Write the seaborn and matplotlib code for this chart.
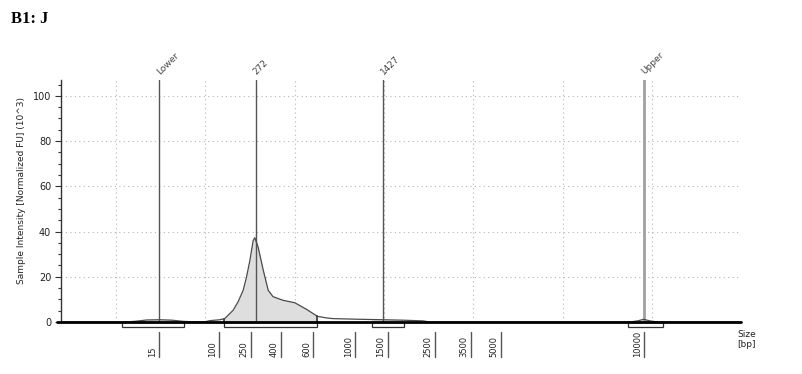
import numpy as np
import pandas as pd
import matplotlib
matplotlib.use("Agg")
import matplotlib.pyplot as plt
from matplotlib.patches import Rectangle
import seaborn as sns

# ---------------- data ----------------
# migration time (s) vs normalized fluorescence (x10^3)
time_s = [16.95, 20.52, 21.08, 21.75, 22.47, 23.15, 23.76, 24.26, 24.99, 25.27,
          25.83, 26.10, 26.57, 26.85, 27.13, 27.32, 27.50, 27.69, 27.78, 27.97,
          28.11, 28.25, 28.53, 28.80, 29.36, 30.02, 30.67, 31.28, 31.79, 32.14,
          33.65, 34.93, 36.05, 37.17, 37.56, 48.73, 49.18, 49.51, 49.85, 50.30,
          54.92]
intensity = [0.0, 0.0, 0.3, 0.9, 1.0, 0.8, 0.3, 0.1, 0.1, 0.6,
             1.0, 1.5, 5.2, 9.0, 14.0, 20.0, 27.0, 36.0, 37.3, 33.0,
             28.0, 23.0, 14.0, 11.2, 9.6, 8.5, 5.6, 2.5, 1.8, 1.5,
             1.2, 1.0, 0.8, 0.5, 0.0, 0.0, 0.5, 1.2, 0.5, 0.0,
             0.0]

marker_names = ["Lower", "272", "1427", "Upper"]
marker_times = [22.44, 27.82, 34.95, 49.51]

region_starts = [20.35, 26.05, 34.32, 48.62]
region_ends = [23.82, 31.28, 36.11, 50.58]

ladder_sizes = ["15", "100", "250", "400", "600", "1000", "1500", "2500", "3500", "5000", "10000"]
ladder_times = [22.44, 25.77, 27.54, 29.22, 31.04, 33.37, 35.20, 37.84, 39.85, 41.53, 49.51]

y_ticks = [0, 20, 40, 60, 80, 100]
x_grid = [20, 25, 30, 35, 40, 45, 50, 55]

df = pd.DataFrame({"time": time_s, "fu": intensity})

# ---------------- figure ----------------
sns.set_theme(style="white")
plt.rcParams["font.family"] = ["DejaVu Sans"]

fig = plt.figure(figsize=(8.02, 3.74), dpi=100)
ax = fig.add_axes([61 / 802, 1 - 322 / 374, (741 - 61) / 802, (322 - 80) / 374])

xlim = (16.95, 54.95)
ylim = (0, 107)
ax.set_xlim(*xlim)
ax.set_ylim(*ylim)

# grid
for g in x_grid:
    ax.axvline(g, color="#b5b5b5", lw=0.8, ls=(0, (1, 3)), zorder=0)
for g in y_ticks[1:]:
    ax.axhline(g, color="#b5b5b5", lw=0.8, ls=(0, (1, 3)), zorder=0)

# fill under peaks in regions
t = np.array(time_s)
v = np.array(intensity)
for s, e in zip(region_starts, region_ends):
    mask = (t >= s) & (t <= e)
    tt = np.concatenate([[s], t[mask], [e]])
    vv = np.concatenate([[np.interp(s, t, v)], v[mask], [np.interp(e, t, v)]])
    ax.fill_between(tt, 0, vv, color="#dedede", lw=0, zorder=1)

# trace
sns.lineplot(data=df, x="time", y="fu", ax=ax, color="#4a4a4a", lw=0.9, zorder=3)

# region boundary ticks for main peak
for bx in (region_starts[1], region_ends[1]):
    ax.plot([bx, bx], [0, np.interp(bx, t, v)], color="#333333", lw=1.2, zorder=3)

# marker lines and labels
for name, mt in zip(marker_names, marker_times):
    if name == "Upper":
        ax.axvline(mt, color="#a0a0a0", lw=2.0, zorder=2)
    else:
        ax.axvline(mt, color="#555555", lw=1.0, zorder=2)
    ax.annotate(name, xy=(mt, 1.0), xycoords=ax.get_xaxis_transform(),
                xytext=(-4, 4), textcoords="offset pixels",
                rotation=45, ha="left", va="bottom", fontsize=6.5,
                color="#444444", annotation_clip=False)

# baseline
ax.plot([xlim[0] - 0.2, xlim[1]], [0, 0], color="black", lw=2, zorder=4, clip_on=False)

# region brackets below baseline
xt = ax.get_xaxis_transform()
h_ax = 5 / 242
for s, e in zip(region_starts, region_ends):
    ax.add_patch(Rectangle((s, -h_ax), e - s, h_ax, transform=xt,
                           facecolor="white", edgecolor="#333333", lw=0.9,
                           clip_on=False, zorder=3))

# ladder size labels
y_top = -(332 - 322) / 242
y_bot = -(357 - 322) / 242
for lab, lt in zip(ladder_sizes, ladder_times):
    ax.plot([lt, lt], [y_top, y_bot], transform=xt, color="#555555", lw=1.0,
            clip_on=False)
    ax.annotate(lab, xy=(lt, y_bot), xycoords=xt, xytext=(-2, 0),
                textcoords="offset pixels", rotation=90, ha="right", va="bottom",
                fontsize=6, color="#222222", annotation_clip=False)

# axes styling
for sp in ["top", "right", "bottom"]:
    ax.spines[sp].set_visible(False)
ax.spines["left"].set_color("#333333")
ax.spines["left"].set_linewidth(1.0)
ax.set_xticks([])
ax.set_yticks(y_ticks)
ax.set_yticks(np.arange(0, 107, 5), minor=True)
ax.tick_params(axis="y", which="major", left=True, length=4, width=0.8,
               color="#333333", labelsize=7, labelcolor="#222222", pad=3)
ax.tick_params(axis="y", which="minor", left=True, length=2, width=0.8,
               color="#333333")
ax.set_xlabel("")
ax.set_ylabel("")

fig.text(22 / 802, 1 - 190 / 374, "Sample Intensity [Normalized FU] (10^3)",
         rotation=90, ha="center", va="center", fontsize=6.5, color="#222222")
fig.text(737 / 802, 1 - 330 / 374, "Size\n[bp]", ha="left", va="top",
         fontsize=6.5, color="#222222", linespacing=1.2)
fig.text(11 / 802, 1 - 23 / 374, "B1: J", ha="left", va="baseline",
         fontsize=12, fontweight="bold", family=["Liberation Serif"], color="black")

fig.savefig("out.png", dpi=100)
